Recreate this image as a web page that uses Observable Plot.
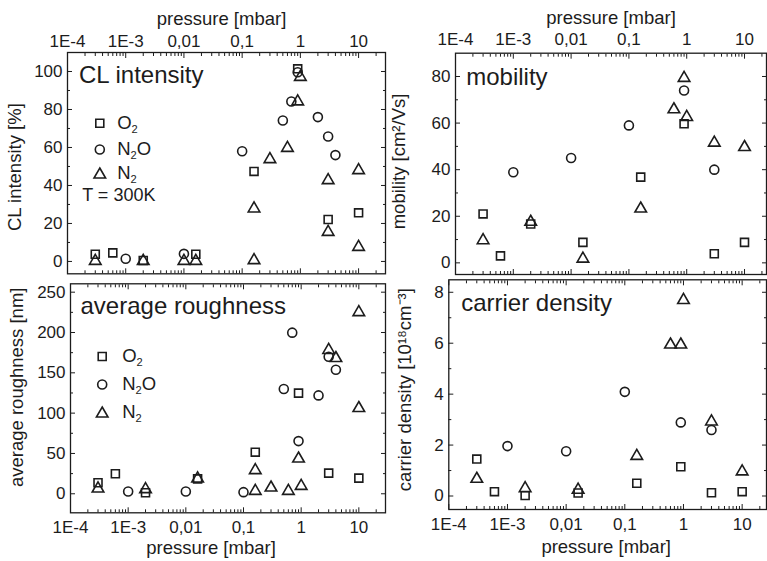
<!DOCTYPE html>
<html><head><meta charset="utf-8">
<script src="https://cdn.jsdelivr.net/npm/d3@7"></script>
<script src="https://cdn.jsdelivr.net/npm/@observablehq/plot@0.6"></script>
<style>
body{margin:0;background:#fff;}
#chart{position:relative;width:767px;height:561px;overflow:hidden;background:#fff;}
#chart svg{position:absolute;left:0;top:0;}
</style></head><body><div id="chart"></div>
<script>
// ---------- data ----------
const majorXTicks = [1e-4, 1e-3, 0.01, 0.1, 1, 10];
const xTickLabels = ["1E-4", "1E-3", "0,01", "0,1", "1", "10"];
const seriesNames = ["O\u2082", "N\u2082O", "N\u2082"];
const seriesSymbols = ["square", "circle", "triangle"];

// CL intensity [%]  : [pressure mbar, value]
const clO2  = [[3e-4,3.8],[6e-4,4.5],[2e-3,0.5],[0.016,3.8],[0.16,47.4],[0.9,101.4],[3,22.1],[10,25.6]];
const clN2O = [[1e-3,1.4],[0.01,4],[0.1,58],[0.5,74.2],[0.7,84.2],[0.9,99.6],[2,76],[3,65.8],[4,56]];
const clN2  = [[3e-4,1],[2e-3,1],[0.01,1],[0.016,1],[0.16,28.6],[0.16,1.4],[0.3,54.6],[0.6,60.5],[0.9,85],[1,97.9],[3,43.5],[3,16.3],[10,48.8],[10,8.4]];

// mobility [cm2/Vs]
const moO2  = [[3e-4,21],[6e-4,3],[2e-3,16.7],[0.016,8.8],[0.16,36.8],[0.9,59.7],[3,3.9],[10,8.8]];
const moN2O = [[1e-3,38.9],[0.01,45],[0.1,59],[0.9,74],[3,40]];
const moN2  = [[3e-4,10.3],[2e-3,18.2],[0.016,2.4],[0.16,23.9],[0.6,66.5],[0.9,80],[1,63.2],[3,52.2],[10,50.3]];

// average roughness [nm]
const raO2  = [[3e-4,13.6],[6e-4,24.8],[2e-3,1.2],[0.016,18.5],[0.16,51.6],[0.9,124.8],[3,25.6],[10,19.4]];
const raN2O = [[1e-3,2.9],[0.01,2.9],[0.1,2],[0.5,130],[0.7,199.8],[0.9,65.3],[2,122],[3,170],[4,153.8]];
const raN2  = [[3e-4,8.2],[2e-3,7.4],[0.016,20.6],[0.16,31],[0.16,5.3],[0.3,9.4],[0.6,5.3],[0.9,45.4],[1,11.5],[3,180],[4,170],[10,227],[10,108]];

// carrier density [1e18 cm-3]
const cdO2  = [[3e-4,1.45],[6e-4,0.17],[2e-3,0.02],[0.016,0.12],[0.16,0.5],[0.9,1.15],[3,0.13],[10,0.17]];
const cdN2O = [[1e-3,1.96],[0.01,1.76],[0.1,4.09],[0.9,2.89],[3,2.59]];
const cdN2  = [[3e-4,0.73],[2e-3,0.36],[0.016,0.3],[0.16,1.63],[0.6,6.0],[0.9,6.0],[1,7.75],[3,2.98],[10,1.02]];

// y ticks
const clYMajor = [0,20,40,60,80,100], clYMinor = [10,30,50,70,90];
const moYMajor = [0,20,40,60,80],     moYMinor = [10,30,50,70];
const raYMajor = [0,50,100,150,200,250], raYMinor = [25,75,125,175,225];
const cdYMajor = [0,2,4,6,8],         cdYMinor = [1,3,5,7];

const xLabel = "pressure [mbar]";
const tempLabel = "T = 300K";

// ---------- layout / style ----------
const ink = "#1c1c1c";
const W = 767, H = 561;
const panels = [
  {frame:[67,52,385,273.3], xDomain:[1e-4,29], yDomain:[-6.5,110], yMajor:clYMajor, yMinor:clYMinor,
   series:[clO2,clN2O,clN2], title:"CL intensity", yLabel:"CL intensity [%]", xAxis:"top",
   xTickGap:6, xLabelDy:-28, xLabelDx:-5, yLabelX:20.5, yLabelDy:4, titleDx:11.5, titleDy:30.5,
   legend:{dx:32.3, dy:[70.7,97,120.7], textDx:49.7, temp:{dx:14.7, dy:143}}},
  {frame:[455,52.7,766,274], xDomain:[1e-4,24], yDomain:[-5,90], yMajor:moYMajor, yMinor:moYMinor,
   series:[moO2,moN2O,moN2], title:"mobility", yLabel:"mobility [cm\u00B2/Vs]", xAxis:"top",
   xTickGap:8, xLabelDy:-29.4, xLabelDx:0, yLabelX:404.7, yLabelDy:-2.4, titleDx:10.7, titleDy:32},
  {frame:[70,283.3,385,512.3], xDomain:[1e-4,29], yDomain:[-23.6,260.4], yMajor:raYMajor, yMinor:raYMinor,
   series:[raO2,raN2O,raN2], title:"average roughness", yLabel:"average roughness [nm]", xAxis:"bottom",
   xTickGap:8.6, xLabelDy:40.7, xLabelDx:-17, yLabelX:22.7, yLabelDy:-11, titleDx:10, titleDy:30,
   legend:{dx:31.7, dy:[72.7,100.7,128.4], textDx:51.7}},
  {frame:[448.3,279.3,766,509], xDomain:[1e-4,26], yDomain:[-0.53,8.49], yMajor:cdYMajor, yMinor:cdYMinor,
   series:[cdO2,cdN2O,cdN2], title:"carrier density", yLabel:"carrier density [10\u00B9\u2078cm\u207B\u00B3]", xAxis:"bottom",
   xTickGap:8.6, xLabelDy:43.7, xLabelDx:-1.5, yLabelX:410, yLabelDy:-5, titleDx:12.4, titleDy:31.4}
];

const symR = {square:4.5, circle:4.5, triangle:4.3};
const symDy = {square:0, circle:0, triangle:1.5};

function buildPanel(p) {
  const [l, t, r, b] = p.frame;
  const xMajor = majorXTicks.filter(v => v >= p.xDomain[0] * 0.999 && v <= p.xDomain[1]);
  const xMinor = d3.scaleLog().domain(p.xDomain).ticks()
    .filter(v => !majorXTicks.some(m => Math.abs(v / m - 1) < 1e-6));
  const fmtX = d => xTickLabels[majorXTicks.indexOf(d)];
  const other = p.xAxis === "top" ? "bottom" : "top";
  const marks = [
    Plot.axisX({anchor:p.xAxis, ticks:xMajor, tickSize:-5, tickPadding:p.xTickGap + 5, tickFormat:fmtX, label:null, stroke:ink, fill:ink, fontSize:17}),
    Plot.axisX({anchor:p.xAxis, ticks:xMinor, tickSize:-3, fill:"none", label:null, stroke:ink}),
    Plot.axisX({anchor:other, ticks:xMajor, tickSize:-5, fill:"none", label:null, stroke:ink}),
    Plot.axisX({anchor:other, ticks:xMinor, tickSize:-3, fill:"none", label:null, stroke:ink}),
    Plot.axisY({anchor:"left", ticks:p.yMajor, tickSize:-5, tickPadding:10, label:null, stroke:ink, fill:ink, fontSize:17}),
    Plot.axisY({anchor:"left", ticks:p.yMinor, tickSize:-3, fill:"none", label:null, stroke:ink}),
    Plot.axisY({anchor:"right", ticks:p.yMajor, tickSize:-5, fill:"none", label:null, stroke:ink}),
    Plot.axisY({anchor:"right", ticks:p.yMinor, tickSize:-3, fill:"none", label:null, stroke:ink}),
    Plot.frame({stroke:ink, strokeWidth:1.3}),
    Plot.text([xLabel], {frameAnchor:p.xAxis, dx:p.xLabelDx, dy:p.xLabelDy, lineAnchor:"bottom", fontSize:18.5, fill:ink}),
    Plot.text([p.yLabel], {frameAnchor:"left", rotate:-90, dx:p.yLabelX - l, dy:p.yLabelDy, lineAnchor:"bottom", textAnchor:"middle", fontSize:18.5, fill:ink}),
    Plot.text([p.title], {frameAnchor:"top-left", dx:p.titleDx, dy:p.titleDy, lineAnchor:"bottom", textAnchor:"start", fontSize:24, fill:ink})
  ];
  p.series.forEach((data, i) => {
    const s = seriesSymbols[i];
    marks.push(Plot.dot(data, {x:d => d[0], y:d => d[1], symbol:s, r:symR[s], dy:symDy[s], stroke:ink, fill:"none", strokeWidth:1.6}));
  });
  if (p.legend) {
    seriesNames.forEach((name, i) => {
      const s = seriesSymbols[i];
      marks.push(Plot.dot([name], {frameAnchor:"top-left", dx:p.legend.dx, dy:p.legend.dy[i] + symDy[s], symbol:s, r:symR[s], stroke:ink, fill:"none", strokeWidth:1.6}));
      marks.push(Plot.text([name], {frameAnchor:"top-left", dx:p.legend.textDx, dy:p.legend.dy[i], lineAnchor:"middle", textAnchor:"start", fontSize:18.5, fill:ink}));
    });
    if (p.legend.temp) {
      marks.push(Plot.text([tempLabel], {frameAnchor:"top-left", dx:p.legend.temp.dx, dy:p.legend.temp.dy, lineAnchor:"middle", textAnchor:"start", fontSize:18, fill:ink}));
    }
  }
  return Plot.plot({
    width:W, height:H,
    marginLeft:l, marginTop:t, marginRight:W - r, marginBottom:H - b,
    x:{type:"log", domain:p.xDomain, nice:false},
    y:{type:"linear", domain:p.yDomain, nice:false},
    style:{fontFamily:"'Liberation Sans', Arial, Helvetica, sans-serif", fontSize:"17px", color:ink, background:"transparent", overflow:"visible"},
    marks
  });
}

// render chemical-formula subscripts as lowered, smaller digits
function lowerSubscripts(svg) {
  d3.select(svg).selectAll("text").each(function () {
    const txt = this.textContent;
    if (!txt.includes("\u2082")) return;
    const parts = txt.split("\u2082");
    const sel = d3.select(this);
    sel.text(null);
    parts.forEach((part, i) => {
      if (i > 0) {
        sel.append("tspan").attr("dy", 4).attr("font-size", "0.6em").text("2");
        if (part) sel.append("tspan").attr("dy", -4).text(part);
      } else if (part) {
        sel.append("tspan").text(part);
      }
    });
  });
}

const chart = document.getElementById("chart");
panels.forEach(p => {
  const svg = buildPanel(p);
  lowerSubscripts(svg);
  chart.appendChild(svg);
});
</script>
</body></html>
